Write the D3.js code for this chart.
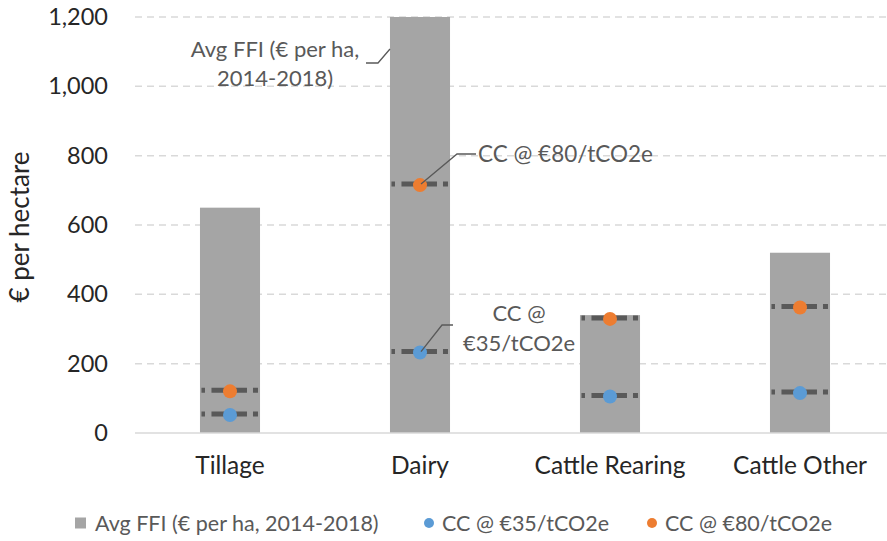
<!DOCTYPE html>
<html>
<head>
<meta charset="utf-8">
<script src="https://cdn.jsdelivr.net/npm/d3@7"></script>
<style>
  body { margin: 0; background: #fff; }
  text { font-family: Lato, "Open Sans", sans-serif; }
</style>
</head>
<body>
<div id="chart"></div>
<script>
// data
let categories = ["Tillage", "Dairy", "Cattle Rearing", "Cattle Other"];
let avg_ffi = [650, 1200, 340, 520];
let cc_35 = [55, 235, 108, 118];
let cc_80 = [123, 718, 332, 365];
let y_ticks = [0, 200, 400, 600, 800, 1000, 1200];

let width_svg = 887;
let height_svg = 541;

let svg = d3.select("#chart")
            .append("svg")
            .attr("width", width_svg)
            .attr("height", height_svg);

//==========================================================
// scales
let x = d3.scaleBand()
          .domain(categories)
          .range([135, 895])
          .paddingInner(0.684)
          .paddingOuter(0.342);

let y = d3.scaleLinear()
          .domain([0, 1200])
          .range([433, 17]);

//==========================================================
// gridlines
svg.append("g")
   .selectAll("line")
   .data(y_ticks.filter(t => t > 0))
   .enter()
   .append("line")
   .attr("x1", 135)
   .attr("x2", 887)
   .attr("y1", t => y(t))
   .attr("y2", t => y(t))
   .attr("stroke", "#d9d9d9")
   .attr("stroke-width", 1.5)
   .attr("stroke-dasharray", "7,5");

// y axis labels
let y_axis = svg.append("g")
                .attr("transform", "translate(135,0)")
                .call(d3.axisLeft(y).tickValues(y_ticks).tickFormat(d3.format(",")).tickSize(0).tickPadding(27));
y_axis.select(".domain").remove();
y_axis.selectAll("text")
      .attr("font-size", 23.5)
      .attr("fill", "#262626")
      .style("font-family", "Lato, sans-serif");

// y title
svg.append("text")
   .attr("transform", `translate(29, ${y(600) + 2}) rotate(-90)`)
   .attr("text-anchor", "middle")
   .attr("font-size", 26)
   .attr("fill", "#262626")
   .text("€ per hectare");

//==========================================================
// bars
svg.append("g")
   .selectAll("rect")
   .data(categories)
   .enter()
   .append("rect")
   .attr("x", c => x(c))
   .attr("width", x.bandwidth())
   .attr("y", (c, i) => y(avg_ffi[i]))
   .attr("height", (c, i) => y(0) - y(avg_ffi[i]))
   .attr("fill", "#a5a5a5");

// x axis
let x_axis = svg.append("g")
                .attr("transform", `translate(0, ${y(0)})`)
                .call(d3.axisBottom(x).tickSize(0).tickPadding(24));
x_axis.select(".domain")
      .attr("d", "M135,0H887")
      .attr("stroke", "#d9d9d9")
      .attr("stroke-width", 1.5);
x_axis.selectAll("text")
      .attr("font-size", 24.5)
      .attr("fill", "#262626")
      .style("font-family", "Lato, sans-serif");

//==========================================================
// dashed level marks and dots
function draw_series(values, color) {
    let g = svg.append("g");
    g.selectAll("line")
     .data(categories)
     .enter()
     .append("line")
     .attr("x1", c => x(c) + 1.5)
     .attr("x2", c => x(c) + x.bandwidth() - 2)
     .attr("y1", (c, i) => y(values[i]))
     .attr("y2", (c, i) => y(values[i]))
     .attr("stroke", "#595959")
     .attr("stroke-width", 5)
     .attr("stroke-dasharray", "3.5,6.5,35.5,6,5");
    g.selectAll("circle")
     .data(categories)
     .enter()
     .append("circle")
     .attr("cx", c => x(c) + x.bandwidth() / 2)
     .attr("cy", (c, i) => y(values[i]) + 1)
     .attr("r", 7)
     .attr("fill", color);
}
draw_series(cc_35, "#5b9bd5");
draw_series(cc_80, "#ed7d31");

//==========================================================
// data labels with leader lines
let label_color = "#595959";
let dairy_x = x("Dairy");
let dairy_mid = dairy_x + x.bandwidth() / 2;

function leader(points) {
    svg.append("path")
       .attr("d", d3.line()(points))
       .attr("fill", "none")
       .attr("stroke", "#595959")
       .attr("stroke-width", 1.3);
}

// Avg FFI label
leader([[366, 63], [378, 63], [dairy_x, 49]]);
let ffi_text = svg.append("text")
                  .attr("text-anchor", "middle")
                  .attr("font-size", 22)
                  .attr("fill", label_color);
ffi_text.append("tspan").attr("x", 275).attr("y", 57).text("Avg FFI (€ per ha,");
ffi_text.append("tspan").attr("x", 275).attr("y", 86).text("2014-2018)");

// CC @ 80 label
leader([[dairy_mid + 1, y(cc_80[1])], [457, 154], [476, 154]]);
svg.append("text")
   .attr("x", 478)
   .attr("y", 162)
   .attr("font-size", 22.5)
   .attr("fill", label_color)
   .text("CC @ €80/tCO2e");

// CC @ 35 label
leader([[dairy_mid + 1, y(cc_35[1])], [442, 325], [453, 325]]);
let cc35_text = svg.append("text")
                   .attr("text-anchor", "middle")
                   .attr("font-size", 22)
                   .attr("fill", label_color);
cc35_text.append("tspan").attr("x", 519).attr("y", 321).text("CC @");
cc35_text.append("tspan").attr("x", 519).attr("y", 351).text("€35/tCO2e");

//==========================================================
// legend
let legend = svg.append("g").attr("transform", "translate(0, 523)");
legend.append("rect")
      .attr("x", 75).attr("y", -5.5)
      .attr("width", 11).attr("height", 11)
      .attr("fill", "#a5a5a5");
legend.append("circle").attr("cx", 429).attr("cy", 0).attr("r", 5).attr("fill", "#5b9bd5");
legend.append("circle").attr("cx", 652).attr("cy", 0).attr("r", 5).attr("fill", "#ed7d31");

let legend_items = [[95, "Avg FFI (€ per ha, 2014-2018)"], [442, "CC @ €35/tCO2e"], [665, "CC @ €80/tCO2e"]];
legend.selectAll("text.item")
      .data(legend_items)
      .enter()
      .append("text")
      .attr("class", "item")
      .attr("x", d => d[0])
      .attr("y", 7.5)
      .attr("font-size", 21.5)
      .attr("fill", label_color)
      .text(d => d[1]);
</script>
</body>
</html>
